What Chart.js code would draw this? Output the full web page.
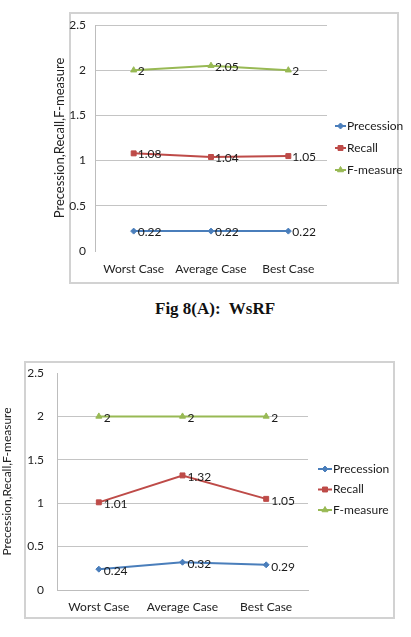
<!DOCTYPE html>
<html><head><meta charset="utf-8">
<script src="https://cdn.jsdelivr.net/npm/chart.js@4.4.1/dist/chart.umd.min.js"></script>
<style>
html,body{margin:0;padding:0;background:#fff}
body{width:411px;height:637px;overflow:hidden;position:relative}
.box{position:absolute;box-sizing:border-box;border:2px solid #d2d2d2}
canvas{position:absolute;left:0}
#cap{position:absolute;left:0;top:299px;width:411px;padding-left:155px;box-sizing:border-box;font:bold 17px 'Liberation Serif','Times New Roman',serif;color:#111;white-space:pre}
</style></head><body>
<div class="box" style="left:69px;top:12px;width:330px;height:272px"></div>
<div class="box" style="left:24px;top:361px;width:371px;height:258px"></div>
<canvas id="c1" width="411" height="292" style="top:0"></canvas>
<canvas id="c2" width="411" height="302" style="top:335px"></canvas>
<div id="cap"></div>
<script>
const categories = ['Worst Case', 'Average Case', 'Best Case'];
const seriesNames = ['Precession', 'Recall', 'F-measure'];
const yTickLabels = ['0', '0.5', '1', '1.5', '2', '2.5'];
const yAxisTitle = 'Precession,Recall,F-measure';
const captionText = 'Fig 8(A):  WsRF';

// Fig 8(A) WsRF
const wsrfPrecession = [0.22, 0.22, 0.22];
const wsrfRecall = [1.08, 1.04, 1.05];
const wsrfFmeasure = [2, 2.05, 2];

// second chart
const secondPrecession = [0.24, 0.32, 0.29];
const secondRecall = [1.01, 1.32, 1.05];
const secondFmeasure = [2, 2, 2];

document.getElementById('cap').textContent = captionText;

const colors = ['#4a7ebb', '#be4b48', '#98b954'];
const markers = ['rectRot', 'rect', 'triangle'];
const markerR = [3, 3.5, 3.5];

function makeChart(id, seriesValues, s) {
  const datasets = seriesValues.map((vals, i) => ({
    label: seriesNames[i],
    data: vals,
    borderColor: colors[i],
    backgroundColor: colors[i],
    borderWidth: 2,
    pointStyle: markers[i],
    pointRadius: markerR[i],
    pointBorderWidth: 1,
    tension: 0
  }));
  const labelPlugin = {
    id: 'vals' + id,
    afterDatasetsDraw(chart) {
      const ctx = chart.ctx;
      ctx.save();
      ctx.font = s.labelFont;
      ctx.fillStyle = '#1a1a1a';
      ctx.textBaseline = 'middle';
      ctx.textAlign = 'left';
      chart.data.datasets.forEach((ds, i) => {
        chart.getDatasetMeta(i).data.forEach((pt, j) => {
          ctx.fillText(String(ds.data[j]), pt.x + s.labelDx, pt.y + s.labelDy);
        });
      });
      ctx.restore();
    }
  };
  const legendPlugin = {
    id: 'leg' + id,
    afterDraw(chart) {
      const ctx = chart.ctx;
      ctx.save();
      chart.data.datasets.forEach((ds, i) => {
        const y = s.legY + i * s.legGap;
        ctx.strokeStyle = ds.borderColor;
        ctx.fillStyle = ds.backgroundColor;
        ctx.lineWidth = 2;
        ctx.beginPath();
        ctx.moveTo(s.legX, y);
        ctx.lineTo(s.legX + s.legLen, y);
        ctx.stroke();
        ctx.lineWidth = 1;
        Chart.helpers.drawPoint(ctx, {pointStyle: ds.pointStyle, radius: ds.pointRadius, borderWidth: 1, rotation: 0}, s.legX + s.legLen / 2, y);
        ctx.fillStyle = '#1a1a1a';
        ctx.font = s.legFont;
        ctx.textBaseline = 'middle';
        ctx.textAlign = 'left';
        ctx.fillText(ds.label, s.legX + s.legLen + 1, y);
      });
      ctx.restore();
    }
  };
  return new Chart(document.getElementById(id), {
    type: 'line',
    data: {labels: categories, datasets},
    plugins: [labelPlugin, legendPlugin],
    options: {
      responsive: false,
      devicePixelRatio: 1,
      animation: false,
      layout: {padding: {left: 0, top: s.padTop, right: s.padRight, bottom: 0}},
      plugins: {legend: {display: false}, tooltip: {enabled: false}},
      scales: {
        x: {
          offset: true,
          grid: {display: false, drawTicks: false},
          border: {display: s.xBorder, color: '#bdbdbd', width: 1},
          ticks: {color: '#222', font: s.tickFont, padding: s.xTickPad, maxRotation: 0, autoSkip: false},
          afterFit(axis) { axis.height = s.xHeight; }
        },
        y: {
          min: 0, max: 2.5,
          ticks: {stepSize: 0.5, color: '#222', font: s.tickFont, padding: s.yTickPad,
            callback: (v, idx) => yTickLabels[idx]},
          grid: {drawTicks: false, lineWidth: 1,
            color: (c) => s.gridAt.includes(c.index) ? '#c4c4c4' : 'rgba(0,0,0,0)'},
          border: {display: true, color: '#bdbdbd', width: 1},
          title: {display: true, text: yAxisTitle, color: '#222', font: s.titleFont, padding: {top: s.titlePad, bottom: 0}},
          afterFit(axis) { axis.width = s.yWidth; }
        }
      }
    }
  });
}

const narrow = "'DejaVu Sans Condensed','Liberation Sans Narrow',sans-serif";

makeChart('c1', [wsrfPrecession, wsrfRecall, wsrfFmeasure], {
  padTop: 25, padRight: 84, xHeight: 41, yWidth: 95,
  xBorder: false, xTickPad: 11, yTickPad: 9,
  gridAt: [1, 2, 3, 4, 5],
  tickFont: {family: 'Lato', size: 12},
  labelFont: "12px Lato",
  labelDx: 4, labelDy: 1,
  titleFont: {family: 'Lato', size: 13},
  titlePad: 52,
  legX: 335, legY: 126, legGap: 22, legLen: 11, legFont: "12px Lato"
});

makeChart('c2', [secondPrecession, secondRecall, secondFmeasure], {
  padTop: 38, padRight: 103, xHeight: 47, yWidth: 57,
  xBorder: true, xTickPad: 10, yTickPad: 13,
  gridAt: [0, 1, 2, 3, 4],
  tickFont: {family: 'Lato', size: 12},
  labelFont: "12px Lato",
  labelDx: 5, labelDy: 2,
  titleFont: {family: 'Lato', size: 12},
  titlePad: 0,
  legX: 318, legY: 134, legGap: 20.5, legLen: 14, legFont: "12px Lato"
});
</script>
</body></html>
